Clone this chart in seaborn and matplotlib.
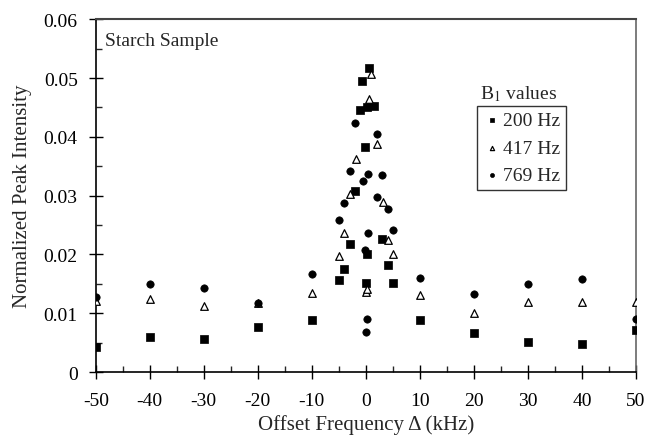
import numpy as np
import pandas as pd
import seaborn as sns
import matplotlib.pyplot as plt
from matplotlib.ticker import MultipleLocator, FuncFormatter

# 200 Hz (filled squares)
x_200 = [-50, -40, -30, -20, -10, -5, -4, -3, -2, -0.2, -1, -0.7, 0.3, 0.5, 1.5,
         0.3, 0, 2.9, 4.1, 5, 10, 20, 30, 40, 50]
y_200 = [0.0042, 0.0059, 0.0057, 0.0076, 0.0089, 0.0157, 0.0176, 0.0218, 0.0308, 0.0382,
         0.0446, 0.0495, 0.0450, 0.0517, 0.0453, 0.0201, 0.0151, 0.0226, 0.0182, 0.0151,
         0.0089, 0.0067, 0.0052, 0.0048, 0.0072]

# 417 Hz (open triangles)
x_417 = [-50, -40, -30, -20, -10, -4.9, -4, -3, -1.9, 0.6, 1, 2.1, 3.1, 4.1, 5.1,
         0, 0.3, 10, 20, 30, 40, 50]
y_417 = [0.0121, 0.0125, 0.0113, 0.0117, 0.0134, 0.0197, 0.0236, 0.0303, 0.0363, 0.0465,
         0.0507, 0.0388, 0.0289, 0.0225, 0.0201, 0.0136, 0.0141, 0.0131, 0.0101, 0.0120,
         0.0120, 0.0120]

# 769 Hz (filled circles)
x_769 = [-50, -40, -30, -20, -10, -4.9, -4, -3, -2, -0.5, 0.4, 2.9, 2.0, 2.1, 4.1, 5,
         0.4, -0.2, 0.3, 0, 10, 20, 30, 40, 50]
y_769 = [0.0128, 0.0149, 0.0143, 0.0118, 0.0166, 0.0259, 0.0287, 0.0342, 0.0424, 0.0325,
         0.0337, 0.0335, 0.0405, 0.0297, 0.0278, 0.0241, 0.0236, 0.0208, 0.0091, 0.0069,
         0.0160, 0.0132, 0.0149, 0.0158, 0.0091]

labels = ['200 Hz', '417 Hz', '769 Hz']

sns.set_style('ticks')
plt.rcParams['font.family'] = ['Liberation Serif', 'DejaVu Serif']
plt.rcParams['axes.unicode_minus'] = False
plt.rcParams['mathtext.fontset'] = 'stix'

fig, ax = plt.subplots(figsize=(6.47, 4.39), dpi=100)
fig.subplots_adjust(left=0.148, right=0.983, top=0.954, bottom=0.150)

d200 = pd.DataFrame({'x': x_200, 'y': y_200})
d417 = pd.DataFrame({'x': x_417, 'y': y_417})
d769 = pd.DataFrame({'x': x_769, 'y': y_769})

sns.scatterplot(data=d200, x='x', y='y', marker='s', s=30, color='black',
                edgecolor='black', linewidth=0.5, ax=ax, label=labels[0], zorder=3)
sns.scatterplot(data=d417, x='x', y='y', marker='^', s=30, facecolor='white',
                edgecolor='black', linewidth=0.9, ax=ax, label=labels[1], zorder=3)
sns.scatterplot(data=d769, x='x', y='y', marker='o', s=28, color='black',
                edgecolor='black', linewidth=0.5, ax=ax, label=labels[2], zorder=3)

ax.set_xlim(-50, 50)
ax.set_ylim(0, 0.06)
ax.xaxis.set_major_locator(MultipleLocator(10))
ax.xaxis.set_minor_locator(MultipleLocator(5))
ax.yaxis.set_major_locator(MultipleLocator(0.01))
ax.yaxis.set_minor_locator(MultipleLocator(0.005))
ax.yaxis.set_major_formatter(FuncFormatter(lambda v, p: '0' if abs(v) < 1e-9 else '%.2f' % v))
ax.tick_params(which='major', direction='inout', length=10, width=1, labelsize=14, colors='black')
ax.tick_params(which='minor', direction='in', length=4, width=1)
ax.tick_params(axis='x', which='major', pad=9)
ax.tick_params(axis='y', which='major', pad=8)

for s in ['left', 'bottom']:
    ax.spines[s].set_linewidth(1.2)
    ax.spines[s].set_color('black')
ax.spines['top'].set_color('#444444')
ax.spines['top'].set_linewidth(1.5)
ax.spines['right'].set_color('#666666')
ax.spines['right'].set_linewidth(1.2)

ax.set_xlabel('Offset Frequency Δ (kHz)', fontsize=15, labelpad=4)
ax.set_ylabel('Normalized Peak Intensity', fontsize=15, labelpad=8)

ax.text(0.018, 0.965, 'Starch Sample', transform=ax.transAxes, ha='left', va='top', fontsize=14)

leg = ax.legend(loc='upper left', bbox_to_anchor=(0.705, 0.754), frameon=True, fancybox=False,
                fontsize=14, handletextpad=0.05, borderpad=0.3, labelspacing=0.5,
                handlelength=1.0, markerscale=0.55, borderaxespad=0)
leg.get_frame().set_edgecolor('black')
leg.get_frame().set_linewidth(1.0)
ax.text(0.783, 0.762, 'B$_1$ values', transform=ax.transAxes, ha='center', va='bottom', fontsize=14)

fig.patch.set_facecolor('white')
plt.savefig('out.png', dpi=100)
